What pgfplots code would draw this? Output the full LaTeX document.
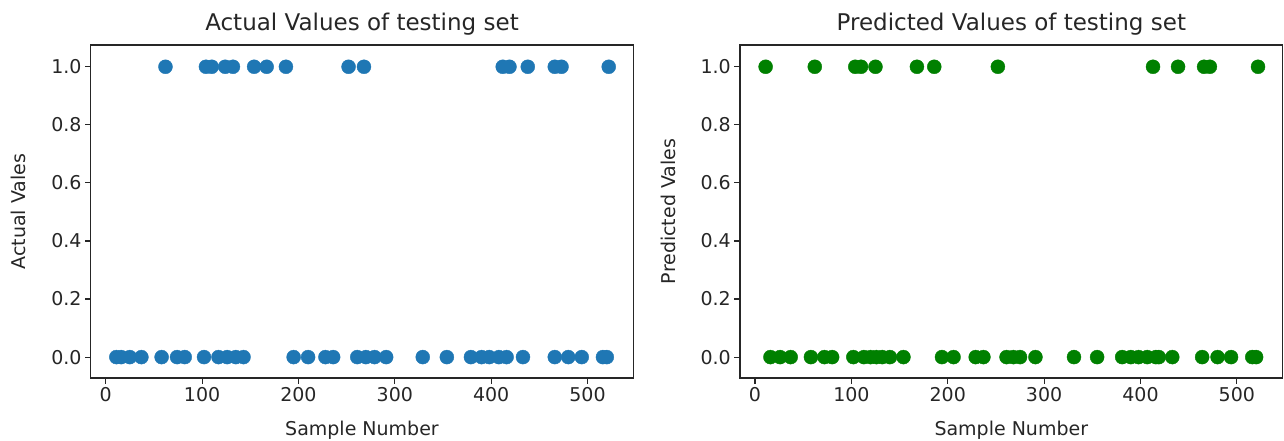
\documentclass[border=0pt]{standalone}
\usepackage{fontspec}
\setmainfont{DejaVu Sans}
\usepackage{pgfplots}
\pgfplotsset{compat=1.18}
\definecolor{mblue}{HTML}{1F77B4}
\definecolor{mgreen}{HTML}{008000}
\definecolor{txt}{HTML}{262626}
\pgfplotsset{
 myax/.style={
  scale only axis, width=542.6pt, height=333pt,
  xmin=-15.6, xmax=547.5, ymin=-0.072, ymax=1.075,
  xtick={0,100,200,300,400,500}, ytick={0,0.2,0.4,0.6,0.8,1.0},
  tick align=outside, xtick pos=left, ytick pos=left,
  major tick length=5.7pt,
  tick style={line width=1.1pt, black!85},
  axis line style={line width=1.1pt, black!85},
  ticklabel style={font=\fontsize{19}{22}\selectfont, text=txt},
  /pgf/number format/assume math mode=true,
  yticklabel style={/pgf/number format/.cd, fixed, fixed zerofill, precision=1},
  every axis title/.style={font=\fontsize{23}{27}\selectfont, text=txt, at={([yshift=21pt]axis description cs:0.5,1)}, anchor=center},
  every axis x label/.style={font=\fontsize{19}{22}\selectfont, text=txt, at={([yshift=-52pt]axis description cs:0.5,0)}, anchor=center},
  every axis y label/.style={font=\fontsize{19}{22}\selectfont, text=txt, at={([xshift=-72pt]axis description cs:0,0.5)}, anchor=center, rotate=90},
  scatter/.style={only marks, mark=*, mark size=7pt},
 }
}
\begin{document}
\begin{tikzpicture}
\useasboundingbox (0,0) rectangle (1284pt,441pt);
\begin{axis}[myax, at={(90.7pt,63pt)}, anchor=south west,
  title={Actual Values of testing set}, xlabel={Sample Number}, ylabel={Actual Vales}]
\addplot[scatter, color=mblue] coordinates {
(62,1)(104,1)(110,1)(124,1)(132,1)(154,1)(167,1)(187,1)(252,1)(268,1)(412,1)(419,1)(438,1)(466,1)(473,1)(522,1)
};
\addplot[scatter, color=mblue] coordinates {
(11,0)(16,0)(25,0)(37,0)(58,0)(74,0)(82,0)(102,0)(117,0)(126,0)(135,0)(143,0)(195,0)(210,0)(228,0)(236,0)(261,0)(270,0)(279,0)(291,0)(329,0)(354,0)(379,0)(390,0)(398,0)(408,0)(416,0)(433,0)(466,0)(480,0)(494,0)(516,0)(520,0)
};
\end{axis}
\begin{axis}[myax, at={(740pt,63pt)}, anchor=south west,
  title={Predicted Values of testing set}, xlabel={Sample Number}, ylabel={Predicted Vales}]
\addplot[scatter, color=mgreen] coordinates {
(11,1)(62,1)(104,1)(110,1)(125,1)(168,1)(186,1)(252,1)(413,1)(439,1)(466,1)(472,1)(522,1)
};
\addplot[scatter, color=mgreen] coordinates {
(16,0)(26,0)(37,0)(58,0)(72,0)(80,0)(102,0)(113,0)(120,0)(126,0)(132,0)(140,0)(154,0)(194,0)(206,0)(229,0)(237,0)(261,0)(268,0)(275,0)(291,0)(331,0)(355,0)(381,0)(390,0)(398,0)(407,0)(416,0)(419,0)(433,0)(464,0)(480,0)(494,0)(516,0)(520,0)
};
\end{axis}
\end{tikzpicture}
\end{document}
